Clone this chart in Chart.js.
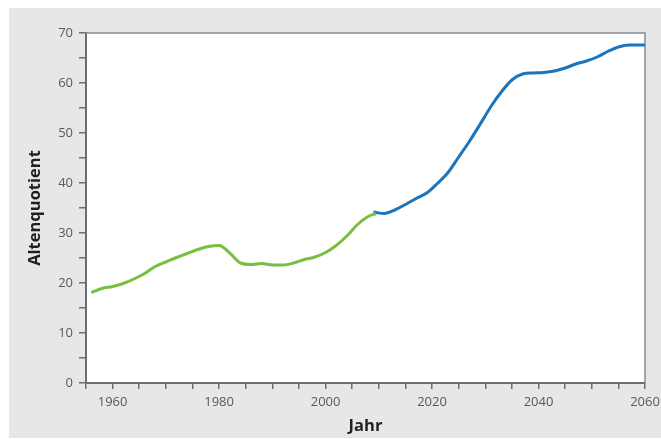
<!DOCTYPE html>
<html>
<head>
<meta charset="utf-8">
<script src="https://cdn.jsdelivr.net/npm/chart.js@4"></script>
<style>
html,body{margin:0;padding:0;background:#fff;}
#wrap{width:661px;height:439px;position:relative;}
</style>
</head>
<body>
<div id="wrap"><canvas id="c"></canvas></div>
<script>
// Historical (green)
const histYears  = [1956,1958,1960,1962,1964,1966,1968,1970,1972,1974,1976,1978,1980,1982,1984,1986,1988,1990,1992,1994,1996,1998,2000,2002,2004,2006,2008,2009.5];
const histValues = [18.1,18.9,19.3,19.9,20.8,21.9,23.3,24.2,25.1,25.9,26.7,27.3,27.5,26.0,24.0,23.7,23.9,23.6,23.6,24.0,24.7,25.2,26.1,27.5,29.4,31.7,33.3,33.9];
// Projection (blue)
const projYears  = [2009,2011,2013,2015,2017,2019,2021,2023,2025,2027,2029,2031,2033,2035,2037,2039,2041,2043,2045,2047,2049,2051,2053,2055,2057,2060];
const projValues = [34.2,33.9,34.6,35.7,36.9,38.0,39.9,42.1,45.2,48.3,51.7,55.2,58.2,60.6,61.8,62.0,62.1,62.4,63.0,63.8,64.4,65.2,66.3,67.2,67.6,67.6];

const xMin = 1955, xMax = 2060, xStep = 5, xLabelEvery = 20;
const yMin = 0, yMax = 70, yStep = 5, yLabelEvery = 10;
const xTitle = 'Jahr';
const yTitle = 'Altenquotient';

const toPts = (xs, ys) => xs.map((x, i) => ({x: x, y: ys[i]}));

const axisColor = '#6d6e71';
const tickFont = {family: '"Open Sans"', size: 13};
const titleFont = {family: '"Open Sans"', size: 16.5, weight: 'bold'};

const bgPlugin = {
  id: 'bg',
  beforeDraw(chart) {
    const ctx = chart.ctx, a = chart.chartArea;
    ctx.save();
    ctx.fillStyle = '#fff';
    ctx.fillRect(0, 0, chart.width, chart.height);
    ctx.fillStyle = '#e6e7e8';
    ctx.fillRect(9, 8, chart.width - 9, chart.height - 9);
    ctx.fillStyle = '#fff';
    ctx.fillRect(a.left, a.top, a.right - a.left, a.bottom - a.top);
    ctx.restore();
  },
  beforeDatasetsDraw(chart) {
    const ctx = chart.ctx, a = chart.chartArea;
    ctx.save();
    ctx.strokeStyle = '#8a8b8d';
    ctx.lineWidth = 1.5;
    ctx.beginPath();
    ctx.moveTo(a.left, a.top);
    ctx.lineTo(a.right, a.top);
    ctx.lineTo(a.right, a.bottom);
    ctx.stroke();
    ctx.restore();
  }
};

new Chart(document.getElementById('c'), {
  type: 'line',
  data: {
    datasets: [
      {data: toPts(histYears, histValues), borderColor: '#76bf3f', borderWidth: 3, pointRadius: 0, cubicInterpolationMode: 'monotone', fill: false},
      {data: toPts(projYears, projValues), borderColor: '#1b75bc', borderWidth: 3, pointRadius: 0, cubicInterpolationMode: 'monotone', fill: false}
    ]
  },
  options: {
    responsive: true,
    maintainAspectRatio: false,
    animation: false,
    layout: {padding: {top: 33, right: 16, left: 0, bottom: 0}},
    plugins: {legend: {display: false}, tooltip: {enabled: false}},
    scales: {
      x: {
        type: 'linear',
        min: xMin, max: xMax,
        afterFit(s) { s.height = 56; s.paddingRight = 0; s.paddingLeft = 0; },
        border: {display: true, color: axisColor, width: 2},
        grid: {drawOnChartArea: false, drawTicks: true, tickLength: 6, color: axisColor, lineWidth: 1.5},
        ticks: {
          stepSize: xStep, autoSkip: false, maxRotation: 0, padding: 5,
          color: '#58595b', font: tickFont,
          callback: v => (v % xLabelEvery === 0 ? String(v) : '')
        },
        title: {display: true, text: xTitle, color: '#231f20', font: titleFont, padding: {top: 0, bottom: 3}}
      },
      y: {
        min: yMin, max: yMax,
        afterFit(s) { s.width = 86; },
        border: {display: true, color: axisColor, width: 2},
        grid: {drawOnChartArea: false, drawTicks: true, tickLength: 7, color: axisColor, lineWidth: 1.5},
        ticks: {
          stepSize: yStep, autoSkip: false, padding: 6,
          color: '#58595b', font: tickFont,
          callback: v => (v % yLabelEvery === 0 ? String(v) : '')
        },
        title: {display: true, text: yTitle, color: '#231f20', font: titleFont, padding: {top: 25, bottom: 0}}
      }
    }
  },
  plugins: [bgPlugin]
});
</script>
</body>
</html>
